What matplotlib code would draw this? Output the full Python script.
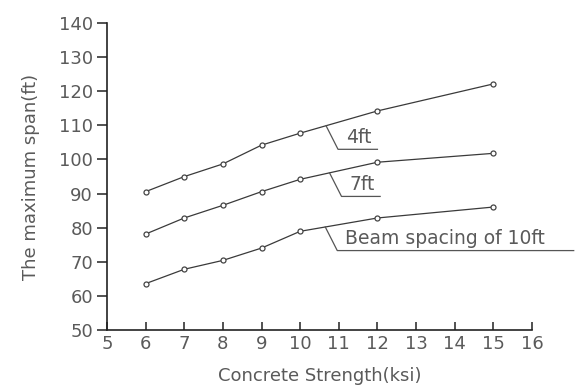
import numpy as np
import matplotlib
matplotlib.use('Agg')
import matplotlib.pyplot as plt

# ─────────────────────────────────────────────
# data
# ─────────────────────────────────────────────
strength = [6, 7, 8, 9, 10, 12, 15]
span_4ft = [90.6, 95.0, 98.7, 104.2, 107.7, 114.2, 122.1]
span_7ft = [78.2, 82.9, 86.6, 90.6, 94.2, 99.2, 101.8]
span_10ft = [63.7, 67.9, 70.5, 74.1, 79.0, 82.9, 86.1]

labels = ['4ft', '7ft', 'Beam spacing of 10ft']
label_x = [10.67, 10.76, 10.65]       # where the leader leaves the curve
label_end = [12.0, 12.07, 17.08]      # end of the underline

x_ticks = list(range(5, 17))
y_ticks = list(range(50, 141, 10))

TXT = '#5a5a5a'
LINE = '#3a3a3a'

plt.rcParams['font.family'] = ['DejaVu Sans']

fig = plt.figure(figsize=(5.83, 3.86), dpi=100)
ax = fig.add_axes([0.1835, 0.1438, 0.729, 0.7974])

for ys in [span_4ft, span_7ft, span_10ft]:
    ax.plot(strength, ys, color=LINE, lw=0.9, marker='o', ms=3.6,
            mfc='white', mec='#444444', mew=0.9)

# ── leader lines + labels ─────────────────────
for ys, lab, lx, lend in zip([span_4ft, span_7ft, span_10ft], labels, label_x, label_end):
    y0 = np.interp(lx, strength, ys)
    ex, ey = lx + 0.31, y0 - 6.9
    ax.plot([lx, ex, lend], [y0, ey, ey], color='#555555', lw=0.9, clip_on=False)
    ax.text(ex + 0.2, ey + 0.7, lab, fontsize=13.5, color=TXT,
            ha='left', va='bottom')

ax.set_xlim(5, 16)
ax.set_ylim(50, 140)
ax.set_xticks(x_ticks)
ax.set_yticks(y_ticks)

for s in ['top', 'right']:
    ax.spines[s].set_visible(False)
for s in ['left', 'bottom']:
    ax.spines[s].set_linewidth(1.2)
    ax.spines[s].set_color('#222222')

ax.tick_params(axis='x', direction='in', length=6, width=1.1, colors='#222222',
               labelcolor=TXT, labelsize=13, pad=3)
ax.tick_params(axis='y', direction='out', length=7, width=1.1, colors='#222222',
               labelcolor=TXT, labelsize=13, pad=3)

ax.set_xlabel('Concrete Strength(ksi)', fontsize=13, color=TXT, labelpad=10)
ax.set_ylabel('The maximum span(ft)', fontsize=13, color=TXT, labelpad=14)

plt.savefig('out.png', dpi=100)
plt.close()
